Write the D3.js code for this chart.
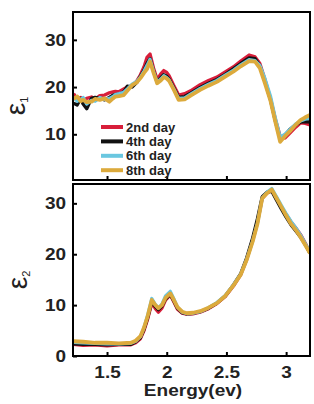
<!DOCTYPE html>
<html>
<head>
<meta charset="utf-8">
<script src="https://cdn.jsdelivr.net/npm/d3@7/dist/d3.min.js"></script>
<style>
  body { margin: 0; background: #fff; }
  text { font-family: "Liberation Sans", Arial, sans-serif; }
  .tick text { font-weight: bold; font-size: 16.5px; fill: #222; }
</style>
</head>
<body>
<div id="chart"></div>
<script>
// energy grid (eV) and dielectric function values
var days = ["2nd day", "4th day", "6th day", "8th day"];
var colors = ["#d81e3a", "#111111", "#6ac7e0", "#dcaa3c"];

var energy1 = [1.22,1.25,1.28,1.30,1.33,1.37,1.40,1.44,1.48,1.52,1.55,1.57,1.60,1.64,1.67,1.71,1.75,1.78,1.81,1.835,1.86,1.89,1.92,1.95,1.975,2.0,2.02,2.06,2.10,2.15,2.20,2.28,2.35,2.42,2.49,2.56,2.62,2.69,2.74,2.78,2.82,2.87,2.91,2.95,2.99,3.03,3.08,3.12,3.16,3.20];
var eps1Day2 = [18.6,17.5,17.8,17.0,17.6,17.9,17.4,18.2,18.3,18.8,19.0,19.1,19.0,19.6,20.0,20.3,21.3,22.6,24.3,26.3,27.0,24.0,21.6,22.8,23.5,23.1,22.4,20.3,18.3,18.6,19.2,20.5,21.4,22.1,23.2,24.3,25.5,26.8,26.4,25.0,21.8,17.5,13.2,9.6,9.2,10.2,11.5,12.4,12.3,12.0];
var eps1Day4 = [16.6,16.2,17.6,16.4,15.4,17.6,17.8,17.6,17.3,17.8,18.3,18.4,18.5,19.0,20.2,20.0,21.0,22.3,23.6,25.0,26.0,23.4,21.0,22.0,22.6,22.3,21.7,19.8,17.8,18.0,18.7,19.9,20.8,21.6,22.7,23.9,25.0,26.2,26.0,24.5,21.4,17.2,12.8,9.0,9.8,11.0,12.0,12.6,12.7,12.6];
var eps1Day6 = [17.8,17.0,17.4,17.8,16.4,17.2,17.0,17.8,17.4,17.6,18.0,18.4,18.6,18.9,19.6,20.6,21.2,22.1,23.4,24.6,25.9,23.3,21.0,21.7,22.4,22.0,21.5,19.6,17.6,17.7,18.5,19.7,20.6,21.4,22.5,23.6,24.7,25.8,25.6,24.6,22.0,18.0,13.4,9.4,10.0,11.0,12.2,12.8,13.2,13.4];
var eps1Day8 = [17.5,18.0,17.0,17.3,16.8,16.9,17.5,17.3,17.6,16.9,17.6,18.0,18.1,18.3,19.2,20.4,21.0,21.9,23.0,23.8,25.4,23.0,20.8,21.4,22.1,21.8,21.3,19.4,17.3,17.4,18.2,19.4,20.3,21.1,22.2,23.3,24.4,25.5,25.4,24.0,21.0,17.0,12.6,8.4,9.6,10.6,12.0,13.0,13.6,14.1];

var energy2 = [1.22,1.30,1.40,1.50,1.60,1.70,1.74,1.78,1.81,1.84,1.875,1.905,1.93,1.96,1.99,2.03,2.06,2.09,2.13,2.17,2.22,2.28,2.35,2.42,2.49,2.56,2.62,2.67,2.72,2.76,2.80,2.84,2.88,2.92,2.96,3.00,3.04,3.08,3.12,3.16,3.20];
var eps2Day2 = [2.3,2.1,2.2,2.0,2.2,2.2,2.6,3.4,5.0,7.2,10.4,9.3,8.6,9.4,11.0,12.0,10.6,9.2,8.4,8.2,8.3,8.6,9.3,10.3,11.7,13.8,16.0,19.0,22.8,26.3,31.0,32.0,32.5,30.9,29.2,27.8,26.4,25.2,23.9,22.2,20.3];
var eps2Day4 = [2.4,2.3,2.3,2.2,2.3,2.3,2.8,3.6,5.3,7.5,10.7,9.7,9.1,9.8,11.2,12.1,10.8,9.4,8.5,8.3,8.4,8.7,9.4,10.4,11.8,14.0,16.2,19.3,23.2,27.0,31.3,32.2,32.4,30.6,28.9,27.3,25.8,24.6,23.4,21.9,20.2];
var eps2Day6 = [2.7,2.6,2.5,2.4,2.4,2.5,2.9,3.8,5.6,8.0,11.3,10.1,9.4,10.2,11.8,12.7,11.2,9.6,8.6,8.3,8.4,8.7,9.5,10.5,11.9,14.0,16.1,19.0,22.6,26.1,31.0,32.2,32.9,31.3,29.6,28.0,26.5,25.2,23.8,22.1,20.4];
var eps2Day8 = [2.9,2.8,2.6,2.6,2.5,2.6,3.0,3.9,5.6,7.8,11.0,10.0,9.4,10.0,11.4,12.3,11.0,9.6,8.7,8.4,8.5,8.8,9.5,10.4,11.8,13.9,16.0,18.9,22.5,26.0,31.0,32.0,32.7,31.0,29.3,27.6,26.0,24.8,23.4,21.8,20.2];

var xTicks = [1.5, 2, 2.5, 3];
var yTicks = [10, 20, 30];
var yTicks2 = [0, 10, 20, 30];

var width = 314, height = 404;
var left = 73, right = 310;
var top1 = 12, bottom1 = 180, top2 = 184, bottom2 = 356;

var svg = d3.select("#chart").append("svg").attr("width", width).attr("height", height);

var x = d3.scaleLinear().domain([1.215, 3.2]).range([left, right]);
var y1 = d3.scaleLinear().domain([0, 35.9]).range([181.5, top1]);
var y2 = d3.scaleLinear().domain([0, 33.8]).range([bottom2, top2]);

function panel(id, y, yt, yTop, yBot, energies, series, showXLabels) {
    var g = svg.append("g");
    g.append("clipPath").attr("id", id).append("rect")
        .attr("x", left).attr("y", yTop).attr("width", right - left).attr("height", yBot - yTop);

    var line = d3.line().x(function (d) { return x(d[0]); }).y(function (d) { return y(d[1]); });
    series.forEach(function (vals, i) {
        g.append("path")
            .datum(energies.map(function (e, j) { return [e, vals[j]]; }))
            .attr("clip-path", "url(#" + id + ")")
            .attr("fill", "none")
            .attr("stroke", colors[i])
            .attr("stroke-width", i == 3 ? 3.8 : 3.3)
            .attr("stroke-linejoin", "round")
            .attr("d", line);
    });

    // y axis, ticks inward
    var ya = g.append("g").attr("transform", "translate(" + left + ",0)")
        .call(d3.axisLeft(y).tickValues(yt).tickSize(-4).tickPadding(6).tickFormat(d3.format("d")));
    ya.select(".domain").remove();
    ya.selectAll(".tick line").attr("stroke-width", 2);
    ya.selectAll(".tick text").attr("transform", "scale(1.15,1)");

    // x axis, ticks inward
    var xa = g.append("g").attr("transform", "translate(0," + yBot + ")")
        .call(d3.axisBottom(x).tickValues(xTicks).tickSize(-4).tickPadding(10)
            .tickFormat(showXLabels ? d3.format("") : ""));
    xa.select(".domain").remove();
    xa.selectAll(".tick line").attr("stroke-width", 2);
    xa.selectAll(".tick text").attr("transform", "scale(1.15,1)");

    g.append("rect").attr("x", left).attr("y", yTop).attr("width", right - left).attr("height", yBot - yTop)
        .attr("fill", "none").attr("stroke", "#000").attr("stroke-width", 2);
    return g;
}

panel("clip1", y1, yTicks, top1, bottom1, energy1, [eps1Day2, eps1Day4, eps1Day6, eps1Day8], false);
panel("clip2", y2, yTicks2, top2, bottom2, energy2, [eps2Day2, eps2Day4, eps2Day6, eps2Day8], true);

// legend
var legend = svg.append("g");
days.forEach(function (d, i) {
    var ly = 127 + i * 14.4;
    legend.append("line").attr("x1", 101).attr("x2", 123).attr("y1", ly).attr("y2", ly)
        .attr("stroke", colors[i]).attr("stroke-width", 4);
    legend.append("text").attr("x", 126).attr("y", ly).attr("dy", "0.36em")
        .attr("font-size", 13).attr("font-weight", "bold").attr("fill", "#222").text(d);
});

// axis titles
function epsLabel(cx, cy, sub) {
    var t = svg.append("text").attr("transform", "translate(" + cx + "," + cy + ") rotate(-90)")
        .attr("text-anchor", "middle").attr("font-size", 28).attr("fill", "#222");
    t.append("tspan").text("ε");
    t.append("tspan").attr("font-size", 11).attr("dy", 3).text(sub);
}
epsLabel(25, 106, "1");
epsLabel(27, 280, "2");

svg.append("text").attr("transform", "translate(193,396) scale(1.12,1)").attr("text-anchor", "middle")
    .attr("font-size", 17).attr("font-weight", "bold").attr("fill", "#222").text("Energy(ev)");
</script>
</body>
</html>
